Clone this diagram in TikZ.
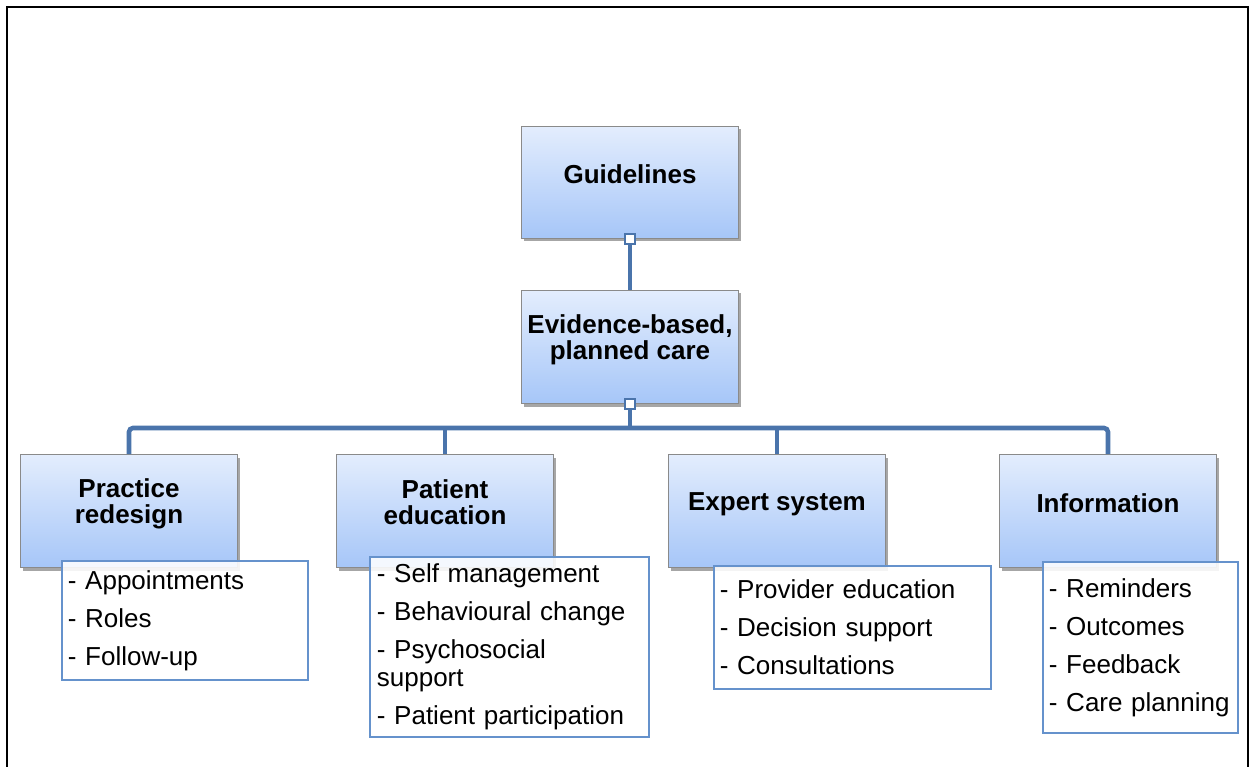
\documentclass[tikz,border=0pt]{standalone}
\usepackage{fontspec}
\setmainfont{Liberation Sans}
\usetikzlibrary{shadows}
\definecolor{connc}{HTML}{4A74AB}
\definecolor{gtop}{HTML}{E3EDFD}
\definecolor{gbot}{HTML}{A6C6F8}
\definecolor{boxedge}{HTML}{8A8A8A}
\definecolor{detedge}{HTML}{6592CC}
\begin{document}
\begin{tikzpicture}[x=1pt,y=-1pt,
  box/.style={draw=boxedge, line width=1pt, top color=gtop, bottom color=gbot,
    drop shadow={shadow xshift=2pt,shadow yshift=-3pt,opacity=0.35,fill=black},
    anchor=north west, inner sep=0pt, minimum width=217pt, minimum height=113pt},
  title/.style={font=\fontsize{26}{26}\selectfont\bfseries, align=center, inner sep=0pt},
  detail/.style={draw=detedge, line width=1.8pt, fill=white, fill opacity=0.88, text opacity=1,
    anchor=north west, inner ysep=0pt, align=left,
    font=\fontsize{26}{28}\selectfont},
  conn/.style={draw=connc, line width=4.6pt},
  sq/.style={draw=connc, fill=white, line width=1.5pt, minimum size=10pt, inner sep=0pt}
]
\useasboundingbox (0,0) rectangle (1250,767);
\draw[line width=2.6pt] (7,767) -- (7,7) -- (1248,7) -- (1248,767);

% main boxes
\node[box, minimum height=112pt] (g) at (521,126) {};
\node[box] (e) at (521,290) {};
\node[box] (l1) at (20,454) {};
\node[box] (l2) at (336,454) {};
\node[box] (l3) at (668,454) {};
\node[box] (l4) at (999,454) {};

\coordinate (bar) at (628,428);

% connectors
\draw[conn] (g.south) -- (e.north);
\draw[conn] (e.south) -- (e.south |- bar);
\draw[conn, rounded corners=4pt] (l1.north) -- (l1.north |- bar) -- (l4.north |- bar) -- (l4.north);
\draw[conn] (l2.north) -- (l2.north |- bar);
\draw[conn] (l3.north) -- (l3.north |- bar);

\node[sq] (sg) at (g.south) {};
\node[sq] (se) at (e.south) {};

% titles
\node[title] (gt) at ([yshift=8.5pt]g.center) {Guidelines};
\node[title] (et) at ([yshift=7.5pt]e.center) {Evidence-based,\\planned care};
\node[title] (l1t) at ([yshift=7pt]l1.center) {Practice\\redesign};
\node[title] (l2t) at ([yshift=9pt]l2.center) {Patient\\education};
\node[title] (l3t) at ([yshift=6.5pt]l3.center) {Expert system};
\node[title] (l4t) at ([yshift=8pt]l4.center) {Information};

% details
\node[detail, inner xsep=6pt, text width=234pt, minimum height=119pt] (d1) at (61,560)
  {- Appointments\\[10pt]- Roles\\[10pt]- Follow-up};
\node[detail, inner xsep=7pt, text width=265pt, minimum height=180pt] (d2) at (369,556)
  {- Self management\\[10pt]- Behavioural change\\[10pt]- Psychosocial\\support\\[10pt]- Patient participation};
\node[detail, inner xsep=6pt, text width=265pt, minimum height=123pt] (d3) at (713,565)
  {- Provider education\\[10pt]- Decision support\\[10pt]- Consultations};
\node[detail, inner xsep=6pt, text width=183pt, minimum height=171pt] (d4) at (1042,561)
  {- Reminders\\[10pt]- Outcomes\\[10pt]- Feedback\\[10pt]- Care planning};
\end{tikzpicture}
\end{document}
